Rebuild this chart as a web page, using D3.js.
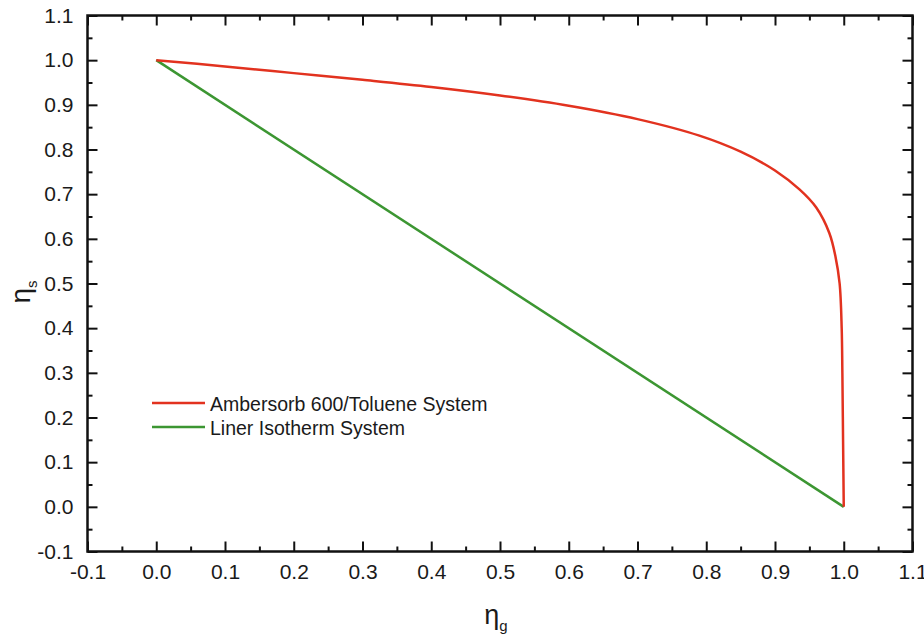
<!DOCTYPE html>
<html><head><meta charset="utf-8">
<script src="https://cdn.jsdelivr.net/npm/d3@7"></script>
<style>body{margin:0;background:#fff}svg{display:block}text{font-family:"Liberation Sans",Arial,sans-serif;fill:#1a1a1a}</style>
</head><body><svg id="c" width="924" height="643"></svg>
<script>
const amberX = [0,0.1,0.2,0.3,0.4,0.5,0.6,0.7,0.79,0.85,0.9,0.936,0.96,0.979,0.988,0.994,0.997,0.998,0.999,1.0];
const amberY = [1.0,0.986,0.971,0.956,0.940,0.921,0.898,0.868,0.831,0.795,0.753,0.71,0.67,0.613,0.56,0.50,0.40,0.30,0.15,0.0];
const linerX = [0,1];
const linerY = [1,0];
const xTicks = [-0.1,0,0.1,0.2,0.3,0.4,0.5,0.6,0.7,0.8,0.9,1.0,1.1];
const yTicks = [-0.1,0,0.1,0.2,0.3,0.4,0.5,0.6,0.7,0.8,0.9,1.0,1.1];
const seriesNames = ["Ambersorb 600/Toluene System","Liner Isotherm System"];
const colors = ["#e2321f","#3c9632"];

const svg = d3.select("#c");
const L=87.5,R=912.5,T=15.5,B=551.5;
const x = d3.scaleLinear().domain([-0.1,1.1]).range([L,R]);
const y = d3.scaleLinear().domain([-0.1,1.1]).range([B,T]);
const minorX = d3.range(-0.05,1.1,0.1), minorY = d3.range(-0.05,1.1,0.1);
const fmt = d => d3.format(".1f")(d).replace("\u2212","-");

function ax(gen, tr, size, vals, labels){
  const g = svg.append("g").attr("transform",tr).call(gen.tickValues(vals).tickSize(size).tickSizeOuter(0).tickFormat(labels?fmt:""));
  g.select(".domain").remove();
  g.selectAll("line").attr("stroke","#111").attr("stroke-width",2);
  return g;
}
let g=ax(d3.axisBottom(x),`translate(0,${B})`,-10,xTicks,true);
g.selectAll("text").attr("y",13).attr("dy","0.71em").style("font-size","21px");
ax(d3.axisBottom(x),`translate(0,${B})`,-5,minorX,false);
ax(d3.axisTop(x),`translate(0,${T})`,-10,xTicks,false);
ax(d3.axisTop(x),`translate(0,${T})`,-5,minorX,false);
g=ax(d3.axisLeft(y),`translate(${L},0)`,-10,yTicks,true);
g.selectAll("text").attr("x",-14).style("font-size","21px");
ax(d3.axisLeft(y),`translate(${L},0)`,-5,minorY,false);
ax(d3.axisRight(y),`translate(${R},0)`,-10,yTicks,false);
ax(d3.axisRight(y),`translate(${R},0)`,-5,minorY,false);
svg.append("rect").attr("x",L).attr("y",T).attr("width",R-L).attr("height",B-T).attr("fill","none").attr("stroke","#111").attr("stroke-width",2.5);

const line = d3.line().x(d=>x(d[0])).y(d=>y(d[1])).curve(d3.curveCatmullRom.alpha(0.5));
svg.append("path").datum(linerX.map((v,i)=>[v,linerY[i]])).attr("d",line).attr("fill","none").attr("stroke",colors[1]).attr("stroke-width",2.5);
svg.append("path").datum(amberX.map((v,i)=>[v,amberY[i]])).attr("d",line).attr("fill","none").attr("stroke",colors[0]).attr("stroke-width",2.5);

seriesNames.forEach((n,i)=>{
  const yy = 403 + i*24;
  svg.append("line").attr("x1",152).attr("x2",205).attr("y1",yy).attr("y2",yy).attr("stroke",colors[i]).attr("stroke-width",2.5);
  svg.append("text").attr("x",210).attr("y",yy+1).attr("dy","0.36em").style("font-size","19.5px").text(n);
});
svg.append("text").attr("transform","translate(30,292) rotate(-90)").attr("text-anchor","middle").style("font-size","28px")
  .html('η<tspan dy="7" style="font-size:15px">s</tspan>');
svg.append("text").attr("x",496).attr("y",624).attr("text-anchor","middle").style("font-size","27px")
  .html('η<tspan dy="7" style="font-size:15px">g</tspan>');
</script></body></html>
